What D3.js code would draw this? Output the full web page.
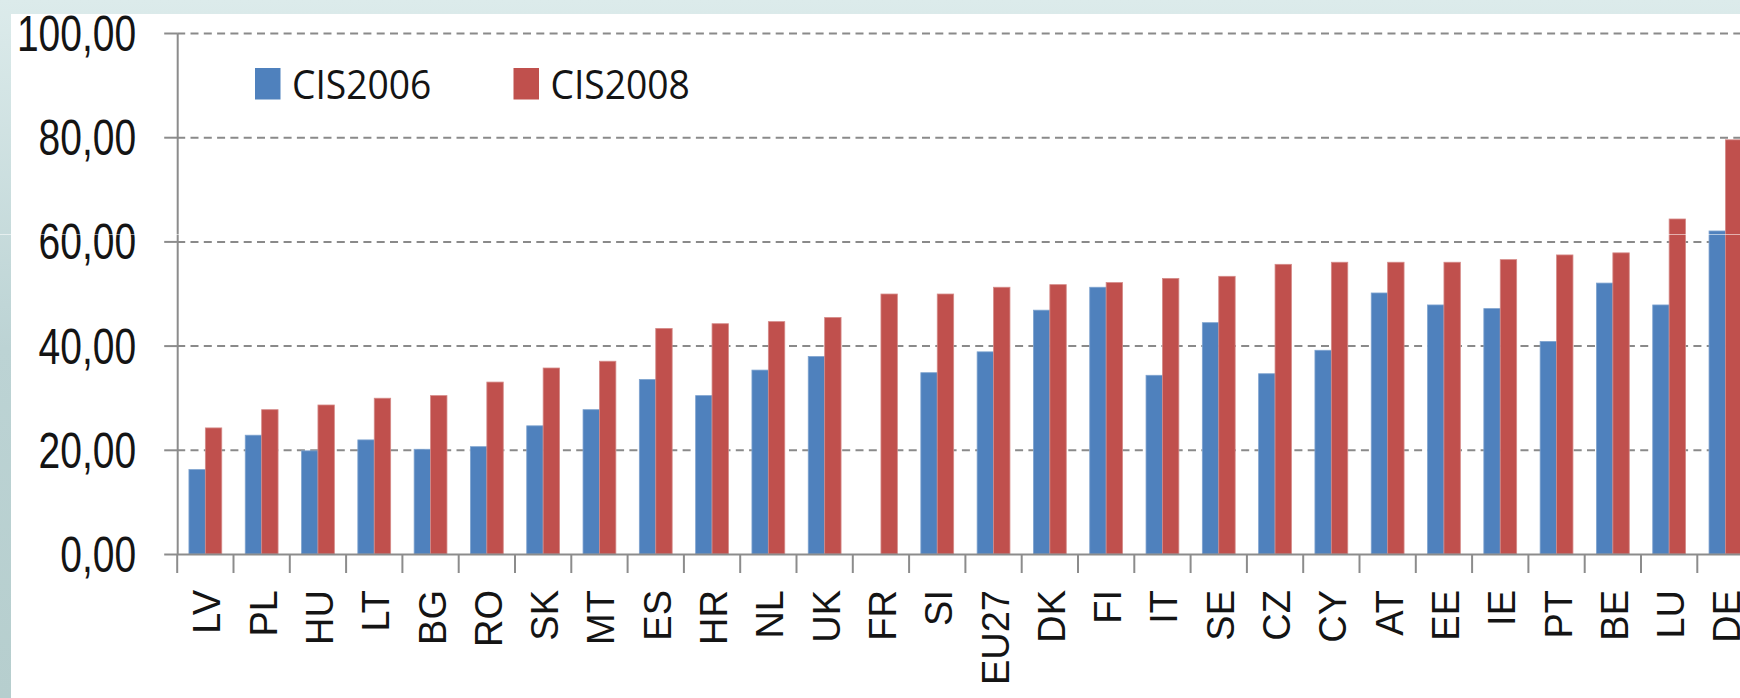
<!DOCTYPE html>
<html lang="en">

<head>
    <meta charset="UTF-8">
    <title>CIS2006 vs CIS2008</title>
    <script src="https://d3js.org/d3.v7.min.js"></script>
    <style>
        body {
            margin: 0;
            padding: 0;
            overflow: hidden;
            background: #fff;
        }

        svg {
            display: block;
            font-family: 'Open Sans', sans-serif;
        }

        .grid line {
            stroke: #8a8a8a;
            stroke-width: 2;
            stroke-dasharray: 8 5.3;
        }

        .axis path,
        .axis line {
            stroke: #8c8c8c;
            stroke-width: 2;
        }

        .axis text {
            fill: #141414;
        }
    </style>
</head>

<body>
    <svg id="chart" width="1740" height="698"></svg>

    <script>
        // Data
        const categories = ["LV", "PL", "HU", "LT", "BG", "RO", "SK", "MT", "ES", "HR", "NL", "UK", "FR", "SI",
            "EU27", "DK", "FI", "IT", "SE", "CZ", "CY", "AT", "EE", "IE", "PT", "BE", "LU", "DE"];
        const cis2006 = [16.2, 22.8, 19.8, 21.9, 20.1, 20.6, 24.6, 27.7, 33.5, 30.4, 35.3, 37.9, 0, 34.8,
            38.8, 46.8, 51.2, 34.3, 44.4, 34.6, 39.1, 50.1, 47.8, 47.1, 40.8, 52.0, 47.8, 62.0];
        const cis2008 = [24.2, 27.7, 28.6, 29.9, 30.4, 33.0, 35.7, 37.0, 43.3, 44.2, 44.6, 45.4, 49.9, 49.9,
            51.2, 51.7, 52.1, 52.9, 53.3, 55.6, 56.0, 56.0, 56.0, 56.5, 57.4, 57.8, 64.3, 79.5];
        const seriesNames = ["CIS2006", "CIS2008"];
        const seriesColors = ["#4f81bd", "#c0504d"];
        const yTicks = [0, 20, 40, 60, 80, 100];

        const rows = categories.map((c, i) => ({ cat: c, values: [cis2006[i], cis2008[i]] }));

        const svg = d3.select("#chart");
        const W = 1740, H = 698;

        // Frame background (teal slide edge)
        const defs = svg.append("defs");
        const grad = defs.append("linearGradient").attr("id", "frame")
            .attr("x1", 0).attr("y1", 0).attr("x2", 0).attr("y2", 1);
        grad.append("stop").attr("offset", "0%").attr("stop-color", "#dcebeb");
        grad.append("stop").attr("offset", "50%").attr("stop-color", "#bcd3d4");
        grad.append("stop").attr("offset", "100%").attr("stop-color", "#b6cece");
        svg.append("rect").attr("width", W).attr("height", H).attr("fill", "url(#frame)");
        svg.append("rect").attr("x", 11).attr("y", 14).attr("width", W).attr("height", H).attr("fill", "#fff");

        // Scales
        const left = 177.2, band = 56.3;
        const x0 = d3.scaleBand().domain(categories)
            .range([left, left + band * categories.length]).padding(0);
        const groupW = band * 0.583;
        const x1 = d3.scaleBand().domain(seriesNames).range([0, groupW]);
        const y = d3.scaleLinear().domain([0, 100]).range([554, 33]);

        const fmt = d3.formatLocale({ decimal: ",", thousands: ".", grouping: [3], currency: ["", ""] }).format(".2f");

        // Gridlines
        svg.append("g")
            .attr("class", "grid")
            .attr("transform", `translate(${left},0)`)
            .call(d3.axisLeft(y).tickValues(yTicks.filter(d => d > 0)).tickSize(-(W - left)).tickFormat(""))
            .call(g => g.select(".domain").remove());

        // Bars
        const groups = svg.append("g").selectAll("g")
            .data(rows)
            .join("g")
            .attr("transform", d => `translate(${x0(d.cat) + (x0.bandwidth() - groupW) / 2},0)`);

        groups.selectAll("rect")
            .data(d => d.values.map((v, i) => ({ key: seriesNames[i], v, i })))
            .join("rect")
            .attr("x", d => x1(d.key))
            .attr("width", x1.bandwidth())
            .attr("y", d => y(d.v))
            .attr("height", d => y(0) - y(d.v))
            .attr("fill", d => seriesColors[d.i])
            .attr("stroke", d => d.i ? "#d58a88" : "#7ea3cf")
            .attr("stroke-width", 0.8)
            .attr("display", d => d.v > 0 ? null : "none");

        // Y axis
        svg.append("g")
            .attr("class", "axis")
            .attr("transform", `translate(${left},0)`)
            .call(d3.axisLeft(y).tickValues(yTicks).tickSize(13).tickSizeOuter(0).tickFormat(fmt))
            .call(g => g.selectAll("text")
                .attr("x", null)
                .attr("dy", "0.357em")
                .attr("font-size", 39)
                .attr("transform", "translate(-41,0) scale(1,1.26)"));

        // X axis
        const xAxis = svg.append("g")
            .attr("class", "axis")
            .attr("transform", `translate(0,${y(0)})`)
            .call(d3.axisBottom(x0).tickSize(0).tickSizeOuter(0));
        xAxis.selectAll("text")
            .attr("y", null)
            .attr("dy", null)
            .attr("font-size", 38)
            .attr("text-anchor", "end")
            .attr("transform", "translate(15,36) rotate(-90)");

        // Category boundary ticks
        xAxis.selectAll(".boundary")
            .data(categories)
            .join("line")
            .attr("class", "boundary")
            .attr("x1", d => x0(d)).attr("x2", d => x0(d))
            .attr("y1", 0).attr("y2", 19);

        // Legend
        const legendX = [255, 513.5];
        const legend = svg.append("g").selectAll("g")
            .data(seriesNames)
            .join("g")
            .attr("transform", (d, i) => `translate(${legendX[i]},68)`);
        legend.append("rect")
            .attr("width", 25.5).attr("height", 31.5)
            .attr("fill", (d, i) => seriesColors[i]);
        legend.append("text")
            .attr("font-size", 38)
            .attr("fill", "#141414")
            .attr("transform", "translate(37,30.5) scale(0.98,1.08)")
            .text(d => d);

        // faint scan line seen across the slide
        svg.append("line")
            .attr("x1", 0).attr("x2", W).attr("y1", 234.5).attr("y2", 234.5)
            .attr("stroke", "rgba(255,255,255,0.55)").attr("stroke-width", 1);
    </script>
</body>

</html>
